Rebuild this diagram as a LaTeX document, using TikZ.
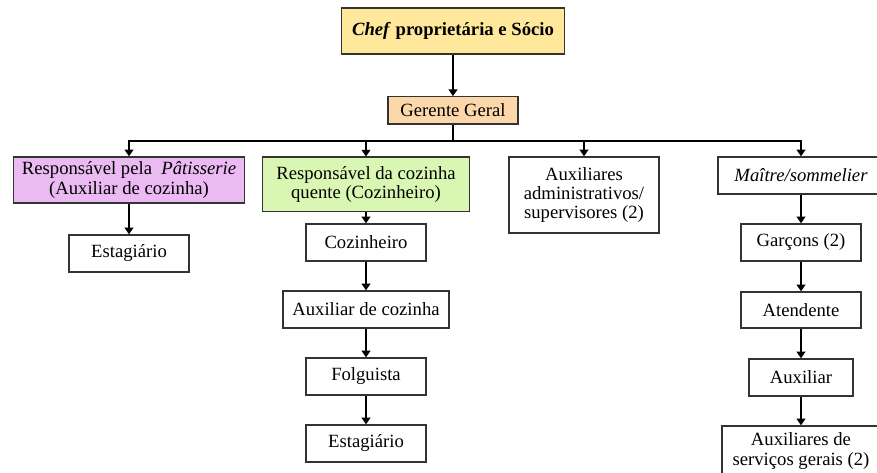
\documentclass[tikz,border=0pt]{standalone}
\usepackage{fontspec}
\setmainfont{LiberationSerif}[Extension=.ttf, UprightFont=*-Regular, BoldFont=*-Bold,
    ItalicFont=*-Italic, BoldItalicFont=*-BoldItalic]
\usetikzlibrary{arrows.meta}

\definecolor{chefyellow}{HTML}{FFE79C}
\definecolor{gerpeach}{HTML}{FBD7AA}
\definecolor{patviolet}{HTML}{EBBAF3}
\definecolor{quentegreen}{HTML}{D9F7B2}

\tikzset{
    box/.style={draw=black!80, line width=1pt, fill=white, align=center,
        inner sep=2pt, font=\rmfamily\fontsize{14}{14.5}\selectfont},
    arr/.style={line width=1.4pt, -{Triangle[length=5pt,width=6.5pt]}}
}

\begin{document}
\begin{tikzpicture}[x=0.75pt,y=-0.75pt]

    \useasboundingbox (0,0) rectangle (877,473);

    % Top: owner and manager
    \node[box, fill=chefyellow, minimum width=167pt, minimum height=34.5pt] (chef) at (453,31)
        {\textbf{\textit{Chef} proprietária e Sócio}};
    \node[box, fill=gerpeach, minimum width=97.5pt, minimum height=20.5pt] (gerente) at (453,110.5) {Gerente Geral};
    \coordinate (bus) at (453,141);

    % Second level
    \node[box, fill=patviolet, minimum width=173pt, minimum height=34.5pt] (patis) at (129,180)
        {Responsável pela\ \ \textit{Pâtisserie}\\(Auxiliar de cozinha)};
    \node[box, fill=quentegreen, minimum width=155pt, minimum height=41pt] (quente) at (366,184.5)
        {Responsável da cozinha\\quente (Cozinheiro)};
    \node[box, minimum width=112.5pt, minimum height=57pt] (admin) at (584,195)
        {Auxiliares\\administrativos/\\supervisores (2)};
    \node[box, minimum width=124.5pt, minimum height=27.75pt] (maitre) at (801,175.5)
        {\textit{Maître/sommelier}};

    % Pâtisserie column
    \node[box, minimum width=90pt, minimum height=27.75pt] (estagA) at (129,253.5) {Estagiário};

    % Hot kitchen column
    \node[box, minimum width=90pt, minimum height=27.75pt] (cozinheiro) at (366,242.5) {Cozinheiro};
    \node[box, minimum width=124.5pt, minimum height=27.75pt] (auxcoz) at (366,309.5) {Auxiliar de cozinha};
    \node[box, minimum width=90pt, minimum height=27.75pt] (folguista) at (366,376.5) {Folguista};
    \node[box, minimum width=90pt, minimum height=27.75pt] (estagB) at (366,443.5) {Estagiário};

    % Hall column
    \node[box, minimum width=90pt, minimum height=27.75pt] (garcons) at (801,242.5) {Garçons (2)};
    \node[box, minimum width=90pt, minimum height=27pt] (atendente) at (801,310) {Atendente};
    \node[box, minimum width=78pt, minimum height=27.75pt] (auxiliar) at (801,377.5) {Auxiliar};
    \node[box, minimum width=118.5pt, minimum height=37.5pt] (servicos) at (801,451)
        {Auxiliares de\\serviços gerais (2)};

    % Connectors
    \draw[arr] (chef) -- (gerente);
    \draw[line width=1.4pt] (gerente) -- (bus);
    \foreach \dest in {patis,quente,admin,maitre} {
        \draw[arr] (bus) -| (\dest);
    }
    \draw[arr] (patis) -- (estagA);
    \draw[arr] (quente) -- (cozinheiro);
    \draw[arr] (cozinheiro) -- (auxcoz);
    \draw[arr] (auxcoz) -- (folguista);
    \draw[arr] (folguista) -- (estagB);
    \draw[arr] (maitre) -- (garcons);
    \draw[arr] (garcons) -- (atendente);
    \draw[arr] (atendente) -- (auxiliar);
    \draw[arr] (auxiliar) -- (servicos);

\end{tikzpicture}
\end{document}
